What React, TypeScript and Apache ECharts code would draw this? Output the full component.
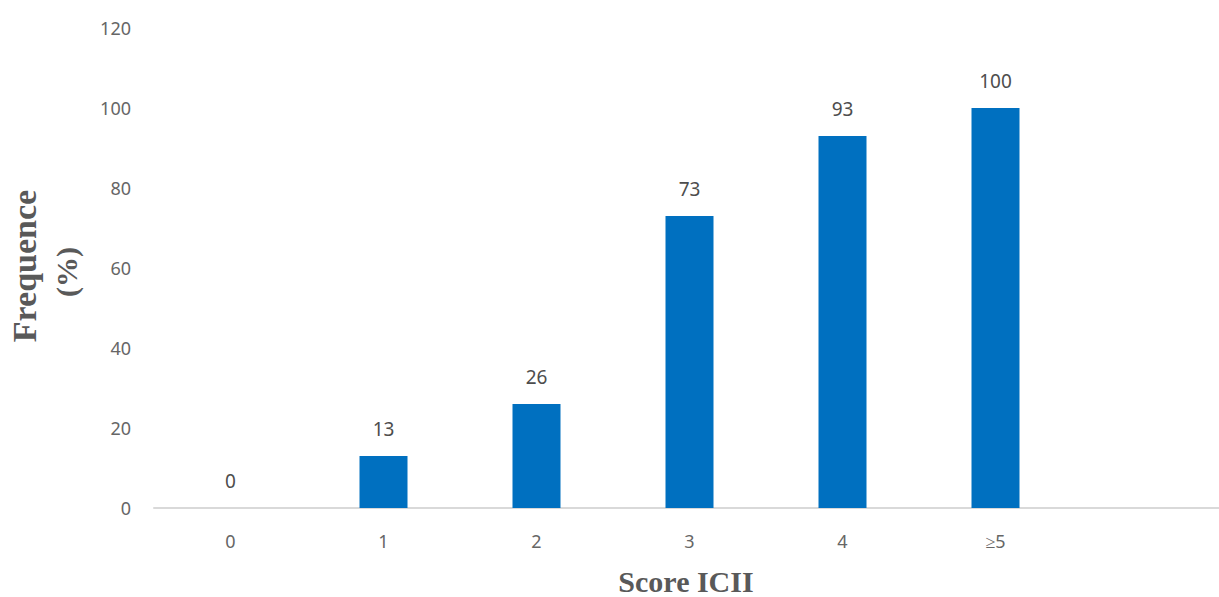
import React, { useEffect, useRef } from "react";
import * as echarts from "echarts";

const categories = ["0", "1", "2", "3", "4", "≥5", ""];
const values = [0, 13, 26, 73, 93, 100];
const yTicks = { min: 0, max: 120, interval: 20 };
const xTitle = "Score ICII";
const yTitle = "Frequence";
const yUnit = "(%)";

export default function App() {
  const ref = useRef<HTMLDivElement>(null);
  useEffect(() => {
    if (!ref.current) return;
    const chart = echarts.init(ref.current, null, { renderer: "svg" });
    chart.setOption({
      animation: false,
      backgroundColor: "#ffffff",
      grid: { left: 154, top: 28, height: 480, width: 1071 },
      xAxis: {
        type: "category",
        data: categories,
        axisLine: { lineStyle: { color: "#d9d9d9", width: 2 } },
        axisTick: { show: false },
        axisLabel: { color: "#666666", fontSize: 18, fontFamily: "Noto Sans", margin: 24 },
      },
      yAxis: {
        type: "value",
        min: yTicks.min,
        max: yTicks.max,
        interval: yTicks.interval,
        axisLine: { show: false },
        axisTick: { show: false },
        splitLine: { show: false },
        axisLabel: { color: "#666666", fontSize: 18, fontFamily: "Noto Sans", margin: 23 },
      },
      series: [
        {
          type: "bar",
          data: values,
          barWidth: 48,
          itemStyle: { color: "#0070C0" },
          label: {
            show: true,
            position: "top",
            distance: 18,
            color: "#4d4d4d",
            fontSize: 19,
            fontFamily: "Noto Sans",
          },
        },
      ],
      graphic: [
        {
          type: "text",
          x: 686,
          y: 581,
          style: {
            text: xTitle,
            fill: "#595959",
            font: "bold 30px 'Liberation Serif'",
            textAlign: "center",
            textVerticalAlign: "middle",
          },
        },
        {
          type: "text",
          x: 24,
          y: 266,
          rotation: Math.PI / 2,
          style: {
            text: yTitle,
            fill: "#595959",
            font: "bold 34px 'Liberation Serif'",
            textAlign: "center",
            textVerticalAlign: "middle",
          },
        },
        {
          type: "text",
          x: 66,
          y: 272,
          rotation: Math.PI / 2,
          style: {
            text: yUnit,
            fill: "#595959",
            font: "bold 30px 'Liberation Serif'",
            textAlign: "center",
            textVerticalAlign: "middle",
          },
        },
      ],
    });
    return () => chart.dispose();
  }, []);
  return (
    <div style={{ position: "absolute", left: 0, top: 0, width: 1219, height: 597, overflow: "hidden", background: "#fff" }}>
      <div ref={ref} style={{ width: 1240, height: 597 }} />
    </div>
  );
}
